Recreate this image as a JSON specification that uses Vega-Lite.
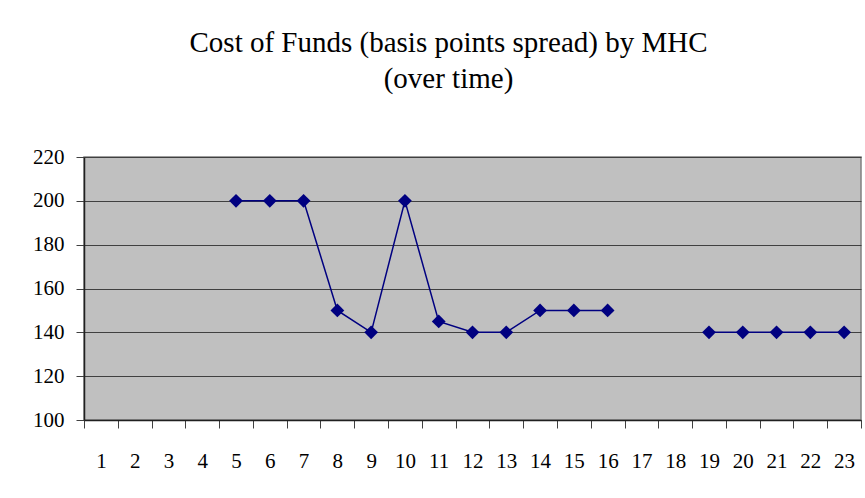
{
  "$schema": "https://vega.github.io/schema/vega-lite/v6.json",
  "width": 777,
  "height": 263,
  "autosize": "none",
  "padding": {"left": 84, "top": 157, "right": 4, "bottom": 78},
  "background": "white",
  "title": {
    "text": ["Cost of Funds (basis points spread) by MHC", "(over time)"],
    "font": "Liberation Serif",
    "fontSize": 29,
    "fontWeight": "normal",
    "color": "black",
    "anchor": "middle",
    "dx": -24,
    "offset": 52,
    "lineHeight": 36
  },
  "data": {
    "values": [
      {"period": 1, "spread": null},
      {"period": 2, "spread": null},
      {"period": 3, "spread": null},
      {"period": 4, "spread": null},
      {"period": 5, "spread": 200},
      {"period": 6, "spread": 200},
      {"period": 7, "spread": 200},
      {"period": 8, "spread": 150},
      {"period": 9, "spread": 140},
      {"period": 10, "spread": 200},
      {"period": 11, "spread": 145},
      {"period": 12, "spread": 140},
      {"period": 13, "spread": 140},
      {"period": 14, "spread": 150},
      {"period": 15, "spread": 150},
      {"period": 16, "spread": 150},
      {"period": 17, "spread": null},
      {"period": 18, "spread": null},
      {"period": 19, "spread": 140},
      {"period": 20, "spread": 140},
      {"period": 21, "spread": 140},
      {"period": 22, "spread": 140},
      {"period": 23, "spread": 140}
    ]
  },
  "encoding": {
    "x": {
      "field": "period",
      "type": "ordinal",
      "scale": {"domain": [1,2,3,4,5,6,7,8,9,10,11,12,13,14,15,16,17,18,19,20,21,22,23], "paddingInner": 0, "paddingOuter": 0},
      "axis": {
        "title": null,
        "labelAngle": 0,
        "labelFont": "Liberation Serif",
        "labelFontSize": 21,
        "labelColor": "black",
        "labelPadding": 22,
        "tickBand": "extent",
        "tickSize": 8,
        "tickColor": "#404040",
        "domainColor": "#202020",
        "domainWidth": 1.5,
        "grid": false
      }
    },
    "y": {
      "field": "spread",
      "type": "quantitative",
      "scale": {"domain": [100, 220], "nice": false, "zero": false},
      "axis": {
        "title": null,
        "values": [100, 120, 140, 160, 180, 200, 220],
        "labelFont": "Liberation Serif",
        "labelFontSize": 21,
        "labelColor": "black",
        "labelPadding": 12,
        "tickSize": 8,
        "tickColor": "#404040",
        "domainColor": "#202020",
        "domainWidth": 1.5,
        "grid": true,
        "gridColor": "#404040",
        "gridWidth": 1.2,
        "gridOpacity": 1
      }
    }
  },
  "layer": [
    {"mark": {"type": "line", "color": "#000080", "strokeWidth": 1.5}},
    {"mark": {"type": "point", "shape": "diamond", "filled": true, "color": "#000080", "size": 190, "opacity": 1}}
  ],
  "config": {
    "view": {"fill": "#C0C0C0", "stroke": "#808080", "strokeWidth": 1.5}
  }
}
